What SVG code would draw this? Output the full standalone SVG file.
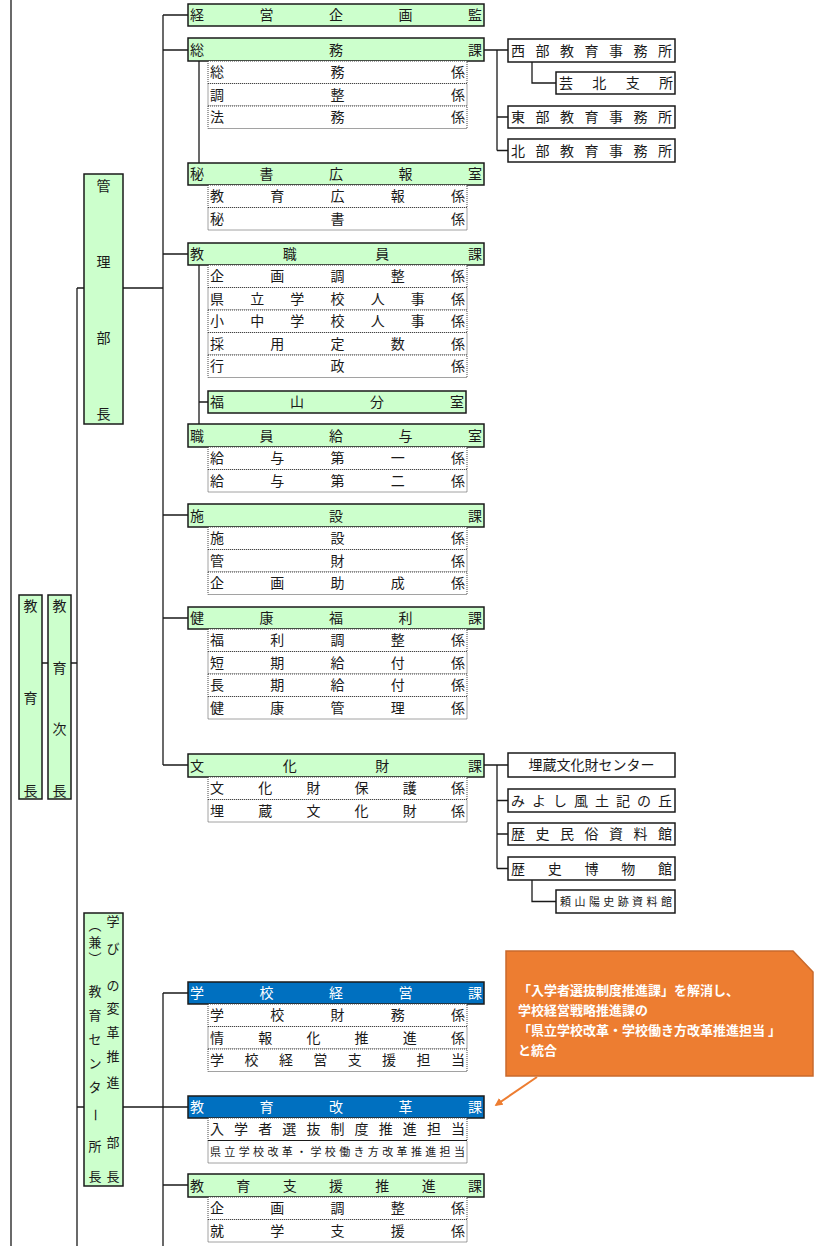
<svg xmlns="http://www.w3.org/2000/svg" width="822" height="1246" viewBox="0 0 822 1246">
<style>
.h{fill:#ccffcc;stroke:#1a1a1a;stroke-width:1.5}
.b{fill:#0070c0;stroke:#1a1a1a;stroke-width:1.5}
.r{fill:#fff;stroke:#444;stroke-width:1;stroke-dasharray:1 1}
.o{fill:#fff;stroke:#1a1a1a;stroke-width:1.5}
.t{font-family:"Noto Sans CJK JP","Noto Sans CJK SC",sans-serif;font-size:14px;fill:#1a1a1a}
.m{text-anchor:middle}
.w{fill:#fff}
.s{font-size:11px}
.v{font-size:13px}
.c{stroke:#1a1a1a;stroke-width:1.3;fill:none}
</style>
<defs>
<marker id="arr" viewBox="0 0 10 10" refX="8" refY="5" markerWidth="4" markerHeight="4" orient="auto"><path d="M0 0L10 5L0 10z" fill="#ED7D31"/></marker>
</defs>
<rect width="822" height="1246" fill="#fff"/>
<g id="connectors" class="c">
<path d="M11 0V1246"/>
<path d="M77 288V1246"/>
<path d="M42 663H48M71 663H77"/>
<path d="M77 288H84M123 288H163"/>
<path d="M163 15V765"/>
<path d="M163 15H188M163 50H188M163 254H188M163 515H188M163 618H188M163 765H188"/>
<path d="M199 61V163M199 265V424M199 402H208"/>
<path d="M484 50H508M497 50V150.5M497 117H508M497 150.5H508M532 62V83H556"/>
<path d="M484 765H508M497 765V868.5M497 800.5H508M497 834H508M497 868.5H508M532 880V901.5H556"/>
<path d="M77 1107H84M123 1107H188M163 993V1246M163 993H188M163 1185H188"/>
</g>
<g id="n-kyoikucho"><rect class="h" x="19" y="595" width="23" height="204"/><text class="t m" x="30.5 30.5 30.5" y="611 703 796">教育長</text></g>
<g id="n-jicho"><rect class="h" x="48" y="595" width="23" height="204"/><text class="t m" x="59.5 59.5 59.5 59.5" y="611 673 734 796">教育次長</text></g>
<g id="n-kanri"><rect class="h" x="84" y="174" width="39" height="250"/><text class="t m" x="103.5 103.5 103.5 103.5" y="191 267 343 419">管理部長</text></g>
<g id="n-manabi"><rect class="h" x="84" y="913" width="39" height="273"/>
<text class="t v m" x="113 113 113 113 113 113 113 113 113" y="926 953 990 1013 1037 1061 1087 1147 1181">学びの変革推進部長</text>
<text class="t v m" x="95 95 95 95 95 95 95 95" y="930 947 963 996 1020 1044 1068 1092">︵兼︶教育センタ</text>
<text class="t v m" transform="rotate(90 95 1115)" x="95" y="1119.5">ー</text>
<text class="t v m" x="95 95" y="1151 1181">所長</text>
</g>
<g id="n-keieikikaku"><rect class="h" x="188" y="4" width="296" height="22"/><text class="t" x="190 259.5 329 398.5 468" y="20">経営企画監</text></g>
<g id="n-soumu"><rect class="h" x="188" y="38" width="296" height="23"/><text class="t" x="190 329 468" y="54.5">総務課</text></g>
<g id="n-soumu-sub">
<rect class="r" x="208" y="61" width="259" height="22.5"/><text class="t" x="210 330.5 451" y="77.25">総務係</text>
<rect class="r" x="208" y="83.5" width="259" height="22.5"/><text class="t" x="210 330.5 451" y="99.75">調整係</text>
<rect class="r" x="208" y="106" width="259" height="22.5"/><text class="t" x="210 330.5 451" y="122.25">法務係</text>
</g>
<g id="n-hisho"><rect class="h" x="188" y="163" width="296" height="22"/><text class="t" x="190 259.5 329 398.5 468" y="179">秘書広報室</text></g>
<g id="n-hisho-sub">
<rect class="r" x="208" y="185" width="259" height="22.5"/><text class="t" x="210 270.25 330.5 390.75 451" y="201.25">教育広報係</text>
<rect class="r" x="208" y="207.5" width="259" height="22.5"/><text class="t" x="210 330.5 451" y="223.75">秘書係</text>
</g>
<g id="n-kyoshokuin"><rect class="h" x="188" y="243" width="296" height="22"/><text class="t" x="190 282.7 375.3 468" y="259">教職員課</text></g>
<g id="n-kyoshokuin-sub">
<rect class="r" x="208" y="265" width="259" height="22.5"/><text class="t" x="210 270.25 330.5 390.75 451" y="281.25">企画調整係</text>
<rect class="r" x="208" y="287.5" width="259" height="22.5"/><text class="t" x="210 250.2 290.3 330.5 370.7 410.8 451" y="303.75">県立学校人事係</text>
<rect class="r" x="208" y="310" width="259" height="22.5"/><text class="t" x="210 250.2 290.3 330.5 370.7 410.8 451" y="326.25">小中学校人事係</text>
<rect class="r" x="208" y="332.5" width="259" height="22.5"/><text class="t" x="210 270.25 330.5 390.75 451" y="348.75">採用定数係</text>
<rect class="r" x="208" y="355" width="259" height="22.5"/><text class="t" x="210 330.5 451" y="371.25">行政係</text>
</g>
<g id="n-fukuyama"><rect class="h" x="208" y="391" width="258" height="22"/><text class="t" x="210 290 370 450" y="407">福山分室</text></g>
<g id="n-kyuyo"><rect class="h" x="188" y="424" width="296" height="23"/><text class="t" x="190 259.5 329 398.5 468" y="440.5">職員給与室</text></g>
<g id="n-kyuyo-sub">
<rect class="r" x="208" y="447" width="259" height="22.5"/><text class="t" x="210 270.25 330.5 390.75 451" y="463.25">給与第一係</text>
<rect class="r" x="208" y="469.5" width="259" height="22.5"/><text class="t" x="210 270.25 330.5 390.75 451" y="485.75">給与第二係</text>
</g>
<g id="n-shisetsu"><rect class="h" x="188" y="504" width="296" height="23"/><text class="t" x="190 329 468" y="520.5">施設課</text></g>
<g id="n-shisetsu-sub">
<rect class="r" x="208" y="527" width="259" height="22.5"/><text class="t" x="210 330.5 451" y="543.25">施設係</text>
<rect class="r" x="208" y="549.5" width="259" height="22.5"/><text class="t" x="210 330.5 451" y="565.75">管財係</text>
<rect class="r" x="208" y="572" width="259" height="22.5"/><text class="t" x="210 270.25 330.5 390.75 451" y="588.25">企画助成係</text>
</g>
<g id="n-kenko"><rect class="h" x="188" y="607" width="296" height="22"/><text class="t" x="190 259.5 329 398.5 468" y="623">健康福利課</text></g>
<g id="n-kenko-sub">
<rect class="r" x="208" y="629" width="259" height="22.5"/><text class="t" x="210 270.25 330.5 390.75 451" y="645.25">福利調整係</text>
<rect class="r" x="208" y="651.5" width="259" height="22.5"/><text class="t" x="210 270.25 330.5 390.75 451" y="667.75">短期給付係</text>
<rect class="r" x="208" y="674" width="259" height="22.5"/><text class="t" x="210 270.25 330.5 390.75 451" y="690.25">長期給付係</text>
<rect class="r" x="208" y="696.5" width="259" height="22.5"/><text class="t" x="210 270.25 330.5 390.75 451" y="712.75">健康管理係</text>
</g>
<g id="n-bunkazai"><rect class="h" x="188" y="754" width="296" height="23"/><text class="t" x="190 282.7 375.3 468" y="770.5">文化財課</text></g>
<g id="n-bunkazai-sub">
<rect class="r" x="208" y="777" width="259" height="22.5"/><text class="t" x="210 258.2 306.4 354.6 402.8 451" y="793.25">文化財保護係</text>
<rect class="r" x="208" y="799.5" width="259" height="22.5"/><text class="t" x="210 258.2 306.4 354.6 402.8 451" y="815.75">埋蔵文化財係</text>
</g>
<g id="n-seibu"><rect class="o" x="508" y="39" width="167" height="23"/><text class="t" x="511 535.5 560 584.5 609 633.5 658" y="55.5">西部教育事務所</text></g>
<g id="n-geihoku"><rect class="o" x="556" y="72" width="119" height="22"/><text class="t" x="559 592.3 625.7 659" y="88">芸北支所</text></g>
<g id="n-tobu"><rect class="o" x="508" y="106" width="167" height="22"/><text class="t" x="511 535.5 560 584.5 609 633.5 658" y="122">東部教育事務所</text></g>
<g id="n-hokubu"><rect class="o" x="508" y="139" width="167" height="23"/><text class="t" x="511 535.5 560 584.5 609 633.5 658" y="155.5">北部教育事務所</text></g>
<g id="n-maizo"><rect class="o" x="508" y="753" width="167" height="24"/><text class="t m" x="591.5" y="770">埋蔵文化財センター</text></g>
<g id="n-miyoshi"><rect class="o" x="508" y="789" width="167" height="23"/><text class="t" x="511 532 553 574 595 616 637 658" y="805.5">みよし風土記の丘</text></g>
<g id="n-minzoku"><rect class="o" x="508" y="823" width="167" height="22"/><text class="t" x="511 535.5 560 584.5 609 633.5 658" y="839">歴史民俗資料館</text></g>
<g id="n-hakubutsu"><rect class="o" x="508" y="857" width="167" height="23"/><text class="t" x="511 547.75 584.5 621.25 658" y="873.5">歴史博物館</text></g>
<g id="n-raisanyo"><rect class="o" x="556" y="890" width="119" height="23"/><text class="t s" x="560 574.4 588.9 603.3 617.7 632.1 646.6 661" y="905.5">頼山陽史跡資料館</text></g>
<g id="n-gakkokeiei"><rect class="b" x="188" y="982" width="296" height="22"/><text class="t w" x="190 259.5 329 398.5 468" y="998">学校経営課</text></g>
<g id="n-gakkokeiei-sub">
<rect class="r" x="208" y="1004" width="259" height="22.5"/><text class="t" x="210 270.25 330.5 390.75 451" y="1020.25">学校財務係</text>
<rect class="r" x="208" y="1026.5" width="259" height="22.5"/><text class="t" x="210 258.2 306.4 354.6 402.8 451" y="1042.75">情報化推進係</text>
<rect class="r" x="208" y="1049" width="259" height="22.5"/><text class="t" x="210 244.4 278.9 313.3 347.7 382.1 416.6 451" y="1065.25">学校経営支援担当</text>
</g>
<g id="n-kyoikukaikaku"><rect class="b" x="188" y="1096" width="296" height="22"/><text class="t w" x="190 259.5 329 398.5 468" y="1112">教育改革課</text></g>
<g id="n-kyoikukaikaku-sub">
<rect class="r" x="208" y="1118" width="259" height="22.5"/><text class="t" x="210 234.1 258.2 282.3 306.4 330.5 354.6 378.7 402.8 426.9 451" y="1134.25">入学者選抜制度推進担当</text>
<rect class="r" x="208" y="1140.5" width="259" height="22.5"/><text class="t s" x="210 224.35 238.7 253.05 267.4 281.75 296.1 310.45 324.8 339.15 353.5 367.85 382.2 396.55 410.9 425.25 439.6 453.95" y="1155.75">県立学校改革・学校働き方改革推進担当</text>
<path d="M208 1140.5H467" stroke="#1a1a1a" stroke-width="1"/>
</g>
<g id="n-shien"><rect class="h" x="188" y="1174" width="296" height="23"/><text class="t" x="190 236.3 282.7 329 375.3 421.7 468" y="1190.5">教育支援推進課</text></g>
<g id="n-shien-sub">
<rect class="r" x="208" y="1197" width="259" height="22.5"/><text class="t" x="210 270.25 330.5 390.75 451" y="1213.25">企画調整係</text>
<rect class="r" x="208" y="1219.5" width="259" height="22.5"/><text class="t" x="210 270.25 330.5 390.75 451" y="1235.75">就学支援係</text>
</g>
<g id="callout">
<polygon points="506,951 793,951 813,972 813,1076 506,1076" fill="#ED7D31" stroke="#C9692C" stroke-width="1.5"/>
<line x1="537" y1="1077" x2="496" y2="1105" stroke="#ED7D31" stroke-width="2" marker-end="url(#arr)"/>
<text class="t w" style="font-size:13px;font-weight:bold"><tspan x="518" y="995">「入学者選抜制度推進課」を解消し、</tspan><tspan x="518" y="1015">学校経営戦略推進課の</tspan><tspan x="518" y="1035">「県立学校改革・学校働き方改革推進担当 」</tspan><tspan x="518" y="1055">と統合</tspan></text>
</g>
</svg>
